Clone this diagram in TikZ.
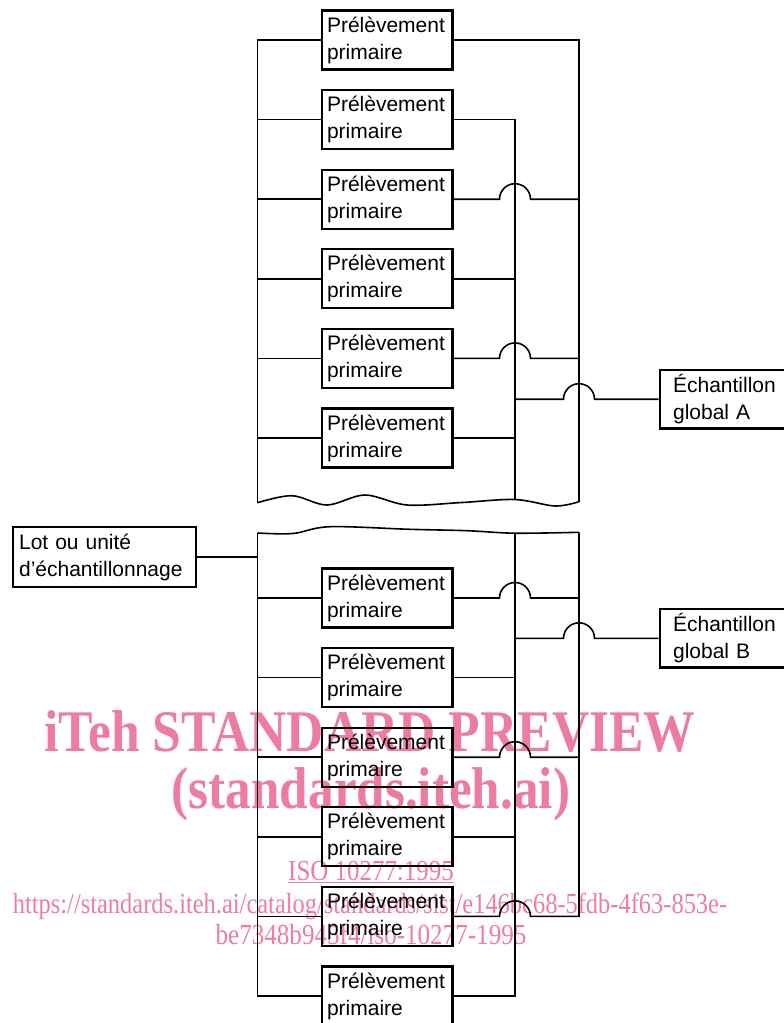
\documentclass[tikz,border=0pt]{standalone}
\usepackage{fontspec}
\setmainfont{Liberation Sans}
\newfontfamily\wmfont{Liberation Serif}
\usetikzlibrary{calc}
\definecolor{wmpink}{RGB}{236,125,160}
\tikzset{
  pbox/.style={draw, line width=2.2pt, rectangle, inner xsep=5pt, inner ysep=0pt,
    text width=120.5pt, minimum height=59pt, align=left,
    font=\fontsize{21}{27}\selectfont},
  lotbox/.style={pbox, inner xsep=6pt, text width=170.5pt, minimum height=60pt},
  gbox/.style={pbox, inner xsep=13.5pt, text width=140pt, minimum height=58.5pt},
  conn/.style={line width=1.6pt},
  wmbig/.style={text=wmpink, inner sep=0pt, font=\wmfont\fontsize{59}{59}\selectfont\bfseries},
  wmsmall/.style={text=wmpink, inner sep=0pt, font=\wmfont\fontsize{29}{29}\selectfont},
}
\begin{document}
\begin{tikzpicture}[x=1pt,y=-1pt]
\useasboundingbox (0,0) rectangle (784,1023);
\clip (0,0) rectangle (784,1023);

% watermark (under the drawing)
\node[wmbig, anchor=base] (wm1) at (370,751.5) {\scalebox{0.875}[1]{iTeh STANDARD PREVIEW}};
\node[wmbig, anchor=base] (wm2) at (371,808) {\scalebox{0.868}[1]{(standards.iteh.ai)}};
\node[wmsmall, anchor=base] (wm3) at (371,880.5) {\scalebox{0.86}[1]{\underline{ISO 10277:1995}}};
\node[wmsmall, anchor=base] (wm4) at (370,913) {\scalebox{0.843}[1]{https://standards.iteh.ai/catalog/standards/sist/e146bc68-5fdb-4f63-853e-}};
\node[wmsmall, anchor=base] (wm5) at (371,944.5) {\scalebox{0.865}[1]{be7348b945f4/iso-10277-1995}};

% boxes, top section
\foreach \i/\y in {1/40,2/119.6,3/199.2,4/278.8,5/358.4,6/438}{
  \node[pbox] (t\i) at (387.25,\y) {Prélèvement\\primaire};
}
% boxes, bottom section
\foreach \i/\y in {1/598,2/677.6,3/757.2,4/836.8,5/916.4,6/996}{
  \node[pbox] (b\i) at (387.25,\y) {Prélèvement\\primaire};
}
\node[lotbox, anchor=west] (lot) at (12,557) {Lot ou unité\\d’échantillonnage};
\node[gbox, anchor=west] (gA) at (658.5,399.2) {Échantillon\\global A};
\node[gbox, anchor=west] (gB) at (658.5,638.3) {Échantillon\\global B};

% break lines
\coordinate (tbL) at (257.5,502.7);
\coordinate (tbM) at (515,499.5);
\coordinate (tbR) at (579,501.7);
\draw[conn] plot[smooth, tension=0.55] coordinates {(tbL) (292,495.7) (327,505) (365,495) (407,505) (462,502.5) (tbM) (555,506) (tbR)};
\coordinate (bbL) at (257.5,533);
\coordinate (bbM) at (515,533.2);
\coordinate (bbR) at (579,532.3);
\draw[conn] plot[smooth, tension=0.55] coordinates {(bbL) (293,533.5) (330,526.7) (410,529.3) (467,530.7) (bbM) (bbR)};

% top section connectors
\draw[conn] (t1.west) -| (tbL);
\foreach \i in {2,...,6}{ \draw[conn] (t\i.west) -- (t\i.west -| tbL); }
\draw[conn] (t1.east) -| (tbR);
\draw[conn] (t2.east) -| (tbM);
\foreach \i in {4,6}{ \draw[conn] (t\i.east) -- (t\i.east -| tbM); }
\foreach \i in {3,5}{
  \draw[conn] (t\i.east) -- ($(t\i.east -| tbM)+(-15.5,0)$)
    arc[start angle=180, end angle=0, radius=15.5pt] -- (t\i.east -| tbR);
}
\draw[conn] (gA.west -| tbM) -- ($(gA.west -| tbR)+(-15.5,0)$)
  arc[start angle=180, end angle=0, radius=15.5pt] -- (gA.west);

% bottom section connectors
\draw[conn] (lot.east) -- (lot.east -| bbL);
\draw[conn] (bbL) |- (b6.west);
\foreach \i in {1,...,5}{ \draw[conn] (b\i.west) -- (b\i.west -| bbL); }
\draw[conn] (bbM) |- (b6.east);
\foreach \i in {2,4}{ \draw[conn] (b\i.east) -- (b\i.east -| bbM); }
\foreach \i in {1,3}{
  \draw[conn] (b\i.east) -- ($(b\i.east -| bbM)+(-15.5,0)$)
    arc[start angle=180, end angle=0, radius=15.5pt] -- (b\i.east -| bbR);
}
\draw[conn] (b5.east) -- ($(b5.east -| bbM)+(-15.5,0)$)
    arc[start angle=180, end angle=0, radius=15.5pt] -- (b5.east -| bbR) -- (bbR);
\draw[conn] (gB.west -| bbM) -- ($(gB.west -| bbR)+(-15.5,0)$)
  arc[start angle=180, end angle=0, radius=15.5pt] -- (gB.west);
\end{tikzpicture}
\end{document}
